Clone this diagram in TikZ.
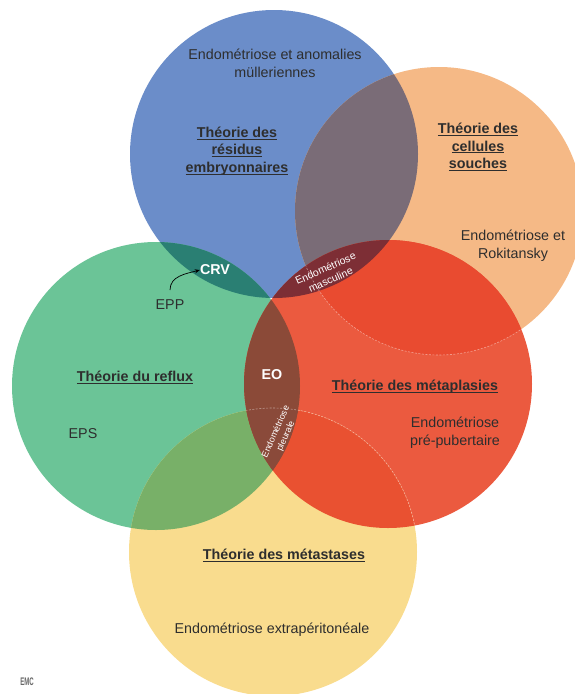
\documentclass[tikz,border=0pt]{standalone}
\usepackage{fontspec}
\setmainfont{Liberation Sans}
\usetikzlibrary{arrows.meta}
\definecolor{cblue}{HTML}{6B8DC9}
\definecolor{corange}{HTML}{F5B986}
\definecolor{cgreen}{HTML}{6BC497}
\definecolor{cred}{HTML}{EB5A3F}
\definecolor{cyellow}{HTML}{F9DC8E}
\definecolor{cbo}{HTML}{7A6C77}
\definecolor{cbg}{HTML}{2A7F73}
\definecolor{cor}{HTML}{E94B30}
\definecolor{cgy}{HTML}{78B068}
\definecolor{cry}{HTML}{E95131}
\definecolor{cgr}{HTML}{8B4A38}
\definecolor{cbr}{HTML}{7D2E35}
\definecolor{cgry}{HTML}{8A4A3A}
\definecolor{ctext}{HTML}{2E2E2E}
\newsavebox\ulbox
\newcommand{\uln}[1]{\sbox\ulbox{#1}\rlap{\rule[-2.3pt]{\wd\ulbox}{0.9pt}}\usebox\ulbox}
\tikzset{
  txt/.style={inner sep=0pt, align=center, text=ctext, font=\fontsize{14.3}{17.5}\selectfont},
  head/.style={txt, font=\fontsize{14.3}{17.5}\selectfont\bfseries},
  wlab/.style={inner sep=0pt, align=center, text=white, font=\fontsize{14.3}{17.5}\selectfont\bfseries},
  smallw/.style={inner sep=0pt, align=center, text=white},
  dashl/.style={white, opacity=0.45, line width=0.6pt, dash pattern=on 2pt off 1.5pt}
}
\begin{document}
\begin{tikzpicture}[x=1pt, y=-1pt]
\useasboundingbox (0,0) rectangle (575,694);
\clip (0,0) rectangle (575,694);
\def\R{144pt}
\coordinate (B) at (274,154);
\coordinate (O) at (439,211);
\coordinate (G) at (156,386);
\coordinate (Rd) at (388,384);
\coordinate (Y) at (273,552);
% base circles
\fill[cblue] (B) circle[radius=\R];
\fill[corange] (O) circle[radius=\R];
\fill[cgreen] (G) circle[radius=\R];
\fill[cred] (Rd) circle[radius=\R];
\fill[cyellow] (Y) circle[radius=\R];
% overlaps
\begin{scope}\clip (B) circle[radius=\R]; \fill[cbo] (O) circle[radius=\R];\end{scope}
\begin{scope}\clip (B) circle[radius=\R]; \fill[cbg] (G) circle[radius=\R];\end{scope}
\begin{scope}\clip (O) circle[radius=\R]; \fill[cor] (Rd) circle[radius=\R];\end{scope}
\begin{scope}\clip (G) circle[radius=\R]; \fill[cgy] (Y) circle[radius=\R];\end{scope}
\begin{scope}\clip (Rd) circle[radius=\R]; \fill[cry] (Y) circle[radius=\R];\end{scope}
\begin{scope}\clip (G) circle[radius=\R]; \fill[cgr] (Rd) circle[radius=\R];\end{scope}
\begin{scope}\clip (B) circle[radius=\R]; \fill[cbr] (Rd) circle[radius=\R];\end{scope}
\begin{scope}\clip (G) circle[radius=\R]; \clip (Rd) circle[radius=\R]; \fill[cgry] (Y) circle[radius=\R];\end{scope}
% faint dashed boundaries inside red
\begin{scope}\clip (Rd) circle[radius=\R];
  \draw[dashl] (O) circle[radius=\R];
  \draw[dashl] (Y) circle[radius=\R];
\end{scope}
% texts
\node[txt] (t1) at (275,63.5) {Endométriose et anomalies\\mülleriennes};
\node[head] (h1) at (237,151) {\uln{Théorie des}\\\uln{résidus}\\\uln{embryonnaires}};
\node[head] (h2) at (478,147) {\uln{Théorie des}\\\uln{cellules}\\\uln{souches}};
\node[txt] (t2) at (513,245.5) {Endométriose et\\Rokitansky};
\node[wlab] (crv) at (215,270) {CRV};
\node[txt] (epp) at (170,305) {EPP};
\coordinate (astart) at (170,290);
\draw[-{Stealth[length=5pt,width=4pt]}, line width=0.7pt, black] (astart) to[out=90, in=195] (crv.west);
\node[head] (h3) at (135,377) {\uln{Théorie du reflux}};
\node[txt] (eps) at (83,434) {EPS};
\node[wlab] (eo) at (272,375) {EO};
\node[head] (h4) at (415,387) {\uln{Théorie des métaplasies}};
\node[txt] (t3) at (455,432.5) {Endométriose\\pré-pubertaire};
\node[smallw, rotate=24, font=\fontsize{10.5}{12.5}\selectfont] (masc) at (328,274) {Endométriose\\masculine};
\node[smallw, rotate=66, font=\fontsize{9}{11}\selectfont] (pleu) at (281,434) {Endométriose\\pleurale};
\node[head] (h5) at (284,555) {\uln{Théorie des métastases}};
\node[txt] (t4) at (272,630) {Endométriose extrapéritonéale};
\node[inner sep=0pt, text=gray!80!black, font=\fontsize{11}{11}\selectfont\bfseries, xscale=0.55] (logo) at (27,682) {EMC};
\end{tikzpicture}
\end{document}
